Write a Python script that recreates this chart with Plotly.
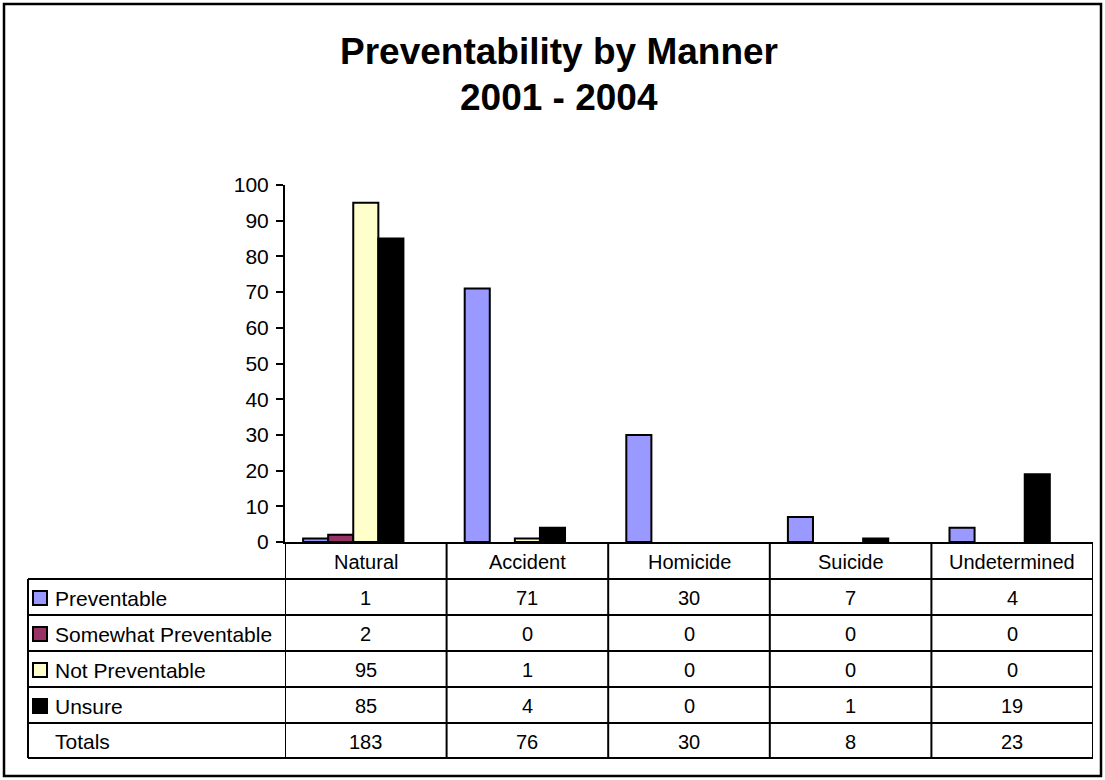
import plotly.graph_objects as go

# Data
manners = ["Natural", "Accident", "Homicide", "Suicide", "Undetermined"]
preventable = [1, 71, 30, 7, 4]
somewhat_preventable = [2, 0, 0, 0, 0]
not_preventable = [95, 1, 0, 0, 0]
unsure = [85, 4, 0, 1, 19]
totals = [183, 76, 30, 8, 23]

series_names = ["Preventable", "Somewhat Preventable", "Not Preventable", "Unsure"]
series_values = [preventable, somewhat_preventable, not_preventable, unsure]
series_colors = ["#9999FF", "#993366", "#FFFFCC", "#000000"]

W, H = 1105, 780
FONT = "Liberation Sans, Arial, sans-serif"


def px(x):
    return x / W


def py(y):
    return 1 - y / H


# plot area and data-table geometry (pixels)
plot_left, plot_right = 285, 1093
plot_top, plot_bottom = 185, 542
table_left = 28
row_lines = [579, 615, 651, 687, 723, 758]

fig = go.Figure()
for name, vals, col in zip(series_names, series_values, series_colors):
    fig.add_trace(go.Bar(
        x=manners, y=vals, name=name,
        marker=dict(color=col,
                    line=dict(color="#000000", width=[2 if v else 0 for v in vals])),
        showlegend=False,
    ))
# Totals series: part of the cluster but drawn without fill or border
fig.add_trace(go.Bar(
    x=manners, y=totals, name="Totals",
    marker=dict(color="rgba(0,0,0,0)", line=dict(width=0)),
    showlegend=False, hoverinfo="skip",
))

shapes = []
annotations = []

# chart frame
shapes.append(dict(type="rect", xref="paper", yref="paper",
                   x0=px(4), x1=px(1101), y0=py(776), y1=py(4),
                   line=dict(color="#000000", width=2.5)))

# data table: horizontal rules
for yl in row_lines:
    shapes.append(dict(type="line", xref="paper", yref="paper",
                       x0=px(table_left), x1=px(plot_right), y0=py(yl), y1=py(yl),
                       line=dict(color="#000000", width=2)))
# data table: left edge of the label column
shapes.append(dict(type="line", xref="paper", yref="paper",
                   x0=px(table_left), x1=px(table_left), y0=py(row_lines[0]), y1=py(row_lines[-1]),
                   line=dict(color="#000000", width=2)))
# data table: column boundaries on the category scale
for i in range(len(manners) + 1):
    shapes.append(dict(type="line", xref="x", yref="paper",
                       x0=i - 0.5, x1=i - 0.5, y0=py(plot_bottom), y1=py(row_lines[-1]),
                       line=dict(color="#000000", width=2)))

# header row: category names
for m in manners:
    annotations.append(dict(x=m, xref="x", y=py((plot_bottom + row_lines[0]) / 2 + 1), yref="paper",
                            text=m, showarrow=False, xanchor="center", yanchor="middle",
                            font=dict(family=FONT, size=20, color="#000000")))

# body rows
row_labels = series_names + ["Totals"]
row_values = series_values + [totals]
for r, (label, vals) in enumerate(zip(row_labels, row_values)):
    yc = (row_lines[r] + row_lines[r + 1]) / 2 + 1
    if r < len(series_colors):
        shapes.append(dict(type="rect", xref="paper", yref="paper",
                           x0=px(33), x1=px(47), y0=py(yc + 7), y1=py(yc - 7),
                           fillcolor=series_colors[r], line=dict(color="#000000", width=2)))
    annotations.append(dict(x=px(53), xref="paper", y=py(yc), yref="paper",
                            text=label, showarrow=False, xanchor="left", yanchor="middle",
                            font=dict(family=FONT, size=21, color="#000000")))
    for m, v in zip(manners, vals):
        annotations.append(dict(x=m, xref="x", y=py(yc), yref="paper",
                                text=str(v), showarrow=False, xanchor="center", yanchor="middle",
                                font=dict(family=FONT, size=20, color="#000000")))

# title
annotations.append(dict(x=px(559), xref="paper", y=py(52), yref="paper",
                        text="<b>Preventability by Manner</b>", showarrow=False,
                        xanchor="center", yanchor="middle",
                        font=dict(family=FONT, size=37, color="#000000")))
annotations.append(dict(x=px(559), xref="paper", y=py(97), yref="paper",
                        text="<b>2001 - 2004</b>", showarrow=False,
                        xanchor="center", yanchor="middle",
                        font=dict(family=FONT, size=37, color="#000000")))

fig.update_layout(
    width=W, height=H,
    margin=dict(l=0, r=0, t=0, b=0, pad=0, autoexpand=False),
    showlegend=False,
    paper_bgcolor="#FFFFFF", plot_bgcolor="#FFFFFF",
    barmode="group", bargap=0.224, bargroupgap=0,
    xaxis=dict(domain=[px(plot_left), px(plot_right)], range=[-0.5, 4.5],
               showticklabels=False, ticks="", showgrid=False, zeroline=False,
               showline=True, linecolor="#000000", linewidth=2, automargin=False),
    yaxis=dict(domain=[py(plot_bottom), py(plot_top)], range=[0, 100], dtick=10,
               ticks="outside", ticklen=7, tickwidth=2, tickcolor="#000000",
               ticklabelstandoff=3,
               showgrid=False, zeroline=False, showline=True, linecolor="#000000", linewidth=2,
               automargin=False,
               tickfont=dict(family=FONT, size=21, color="#000000")),
    shapes=shapes,
    annotations=annotations,
    font=dict(family=FONT, color="#000000"),
)

fig.write_html("out.html")
